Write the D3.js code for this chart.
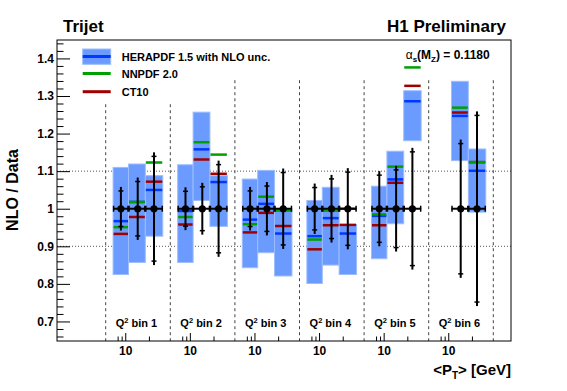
<!DOCTYPE html>
<html>
<head>
<meta charset="utf-8">
<script src="https://cdn.jsdelivr.net/npm/d3@7"></script>
<style>
  body { margin: 0; background: #fff; }
  svg { font-family: "Liberation Sans", Arial, sans-serif; font-weight: bold; }
</style>
</head>
<body>
<div id="chart"></div>
<script>
// Q2 bins and <pT> bins inside each of them
var q2Bins = ["1", "2", "3", "4", "5", "6"];
var ptEdges = [7, 11, 18, 30];
var ptMean = [8.8, 14.4, 23.2];
var ptRange = [5.64, 37.4];
var ptTicksMajor = [10];
var ptTicksMinor = [8, 9, 20];

// NLO / Data, one row per Q2 bin, one value per pT bin (null = no point)
var heraHi = [[1.110, 1.119, 1.088], [1.117, 1.257, 1.088], [1.079, 1.102, 1.000],
              [1.022, 1.057, 0.958], [1.060, 1.153, 1.314], [null, 1.339, 1.159]];
var heraLo = [[0.825, 0.857, 0.927], [0.857, 1.022, 0.953], [0.843, 0.883, 0.821],
              [0.801, 0.850, 0.825], [0.867, 0.960, 1.181], [null, 1.128, 0.991]];
var hera   = [[0.967, 1.018, 1.050], [0.994, 1.158, 1.071], [0.971, 1.013, 0.934],
              [0.927, 0.975, 0.934], [0.981, 1.078, 1.286], [null, 1.247, 1.101]];
var nnpdf  = [[0.951, 1.018, 1.123], [0.978, 1.177, 1.144], [0.959, 1.032, 0.995],
              [0.918, 0.995, 1.000], [0.985, 1.112, 1.376], [null, 1.269, 1.124]];
var ct10   = [[0.933, 0.978, 1.072], [0.958, 1.131, 1.093], [0.937, 0.989, 0.954],
              [0.892, 0.956, 0.957], [0.956, 1.069, 1.327], [null, 1.256, 1.124]];
// data relative uncertainty (data sits at 1 by construction)
var dataErr = [[0.058, 0.083, 0.150], [0.057, 0.069, 0.128], [0.058, 0.071, 0.107],
               [0.067, 0.090, 0.108], [0.100, 0.114, 0.162], [null, 0.184, 0.259]];

var yMajor = [0.7, 0.8, 0.9, 1, 1.1, 1.2, 1.3, 1.4];
var yGuides = [0.9, 1.1];

var W = 567, H = 391;
var fl = 57, fr = 511, ft = 40, fb = 341;

var svg = d3.select("#chart").append("svg")
    .attr("width", W).attr("height", H);

var y = d3.scaleLinear().domain([0.648, 1.449]).range([fb, ft]);
var xBin = d3.scaleBand().domain(q2Bins).range([105.7, 493.3]);
var xPt = d3.scaleLog().domain(ptRange).range([0, xBin.bandwidth()]);

// guide lines
svg.selectAll(".hguide").data(yGuides).enter().append("line")
    .attr("x1", fl).attr("x2", fr)
    .attr("y1", function(d) { return y(d); }).attr("y2", function(d) { return y(d); })
    .attr("stroke", "#555").attr("stroke-width", 1).attr("stroke-dasharray", "1,2");

var edges = q2Bins.map(function(b) { return xBin(b); }).concat([xBin(q2Bins[5]) + xBin.bandwidth()]);
svg.selectAll(".vguide").data(edges).enter().append("line")
    .attr("x1", function(d) { return d; }).attr("x2", function(d) { return d; })
    .attr("y1", y(1.342)).attr("y2", fb)
    .attr("stroke", "#444").attr("stroke-width", 1).attr("stroke-dasharray", "3,3");

// legend background hides the guides under it
svg.append("rect").attr("x", 75).attr("y", 41).attr("width", 130).attr("height", 62).attr("fill", "#fff");

// build point list
var pts = [];
q2Bins.forEach(function(b, i) {
  ptMean.forEach(function(m, j) {
    if (dataErr[i][j] == null) return;
    pts.push({bin: b, x0: xBin(b) + xPt(ptEdges[j]), x1: xBin(b) + xPt(ptEdges[j + 1]),
              xc: xBin(b) + xPt(m), hi: heraHi[i][j], lo: heraLo[i][j],
              hera: hera[i][j], nnpdf: nnpdf[i][j], ct10: ct10[i][j], err: dataErr[i][j]});
  });
});

// HERAPDF uncertainty bands
svg.selectAll(".band").data(pts).enter().append("rect")
    .attr("x", function(d) { return d.x0; })
    .attr("width", function(d) { return d.x1 - d.x0; })
    .attr("y", function(d) { return y(d.hi); })
    .attr("height", function(d) { return y(d.lo) - y(d.hi); })
    .attr("fill", "#6b9bff").attr("stroke", "#9dbdff").attr("stroke-width", 1);

// theory central values
var theory = [["hera", "#0038ff"], ["ct10", "#a00000"], ["nnpdf", "#00a000"]];
theory.forEach(function(t) {
  svg.selectAll(".t" + t[0]).data(pts).enter().append("line")
      .attr("x1", function(d) { return d.x0 + 0.5; })
      .attr("x2", function(d) { return d.x1 - 0.5; })
      .attr("y1", function(d) { return y(d[t[0]]); })
      .attr("y2", function(d) { return y(d[t[0]]); })
      .attr("stroke", t[1]).attr("stroke-width", 2.5);
});

// data points
var g = svg.selectAll(".pt").data(pts).enter().append("g");
g.append("line")
    .attr("x1", function(d) { return d.x0; }).attr("x2", function(d) { return d.x1; })
    .attr("y1", y(1)).attr("y2", y(1))
    .attr("stroke", "#000").attr("stroke-width", 2);
g.append("line")
    .attr("x1", function(d) { return d.xc; }).attr("x2", function(d) { return d.xc; })
    .attr("y1", function(d) { return y(1 + d.err); }).attr("y2", function(d) { return y(1 - d.err); })
    .attr("stroke", "#000").attr("stroke-width", 2);
[1, -1].forEach(function(s) {
  g.append("line")
      .attr("x1", function(d) { return d.xc - 2.5; }).attr("x2", function(d) { return d.xc + 2.5; })
      .attr("y1", function(d) { return y(1 + s * d.err) + s * 4; })
      .attr("y2", function(d) { return y(1 + s * d.err) + s * 4; })
      .attr("stroke", "#000").attr("stroke-width", 1.5);
  g.append("line")
      .attr("x1", function(d) { return s > 0 ? d.x1 - 0.5 : d.x0 + 0.5; })
      .attr("x2", function(d) { return s > 0 ? d.x1 - 0.5 : d.x0 + 0.5; })
      .attr("y1", y(1) - 3).attr("y2", y(1) + 3)
      .attr("stroke", "#000").attr("stroke-width", 1.5);
});
g.append("circle")
    .attr("cx", function(d) { return d.xc; }).attr("cy", y(1)).attr("r", 3.6)
    .attr("fill", "#000");

// frame
svg.append("rect").attr("x", fl).attr("y", ft).attr("width", fr - fl).attr("height", fb - ft)
    .attr("fill", "none").attr("stroke", "#000").attr("stroke-width", 1);

// y axis
var yMinor = d3.range(0.66, 1.449, 0.02).filter(function(v) {
  return yMajor.every(function(m) { return Math.abs(m - v) > 0.005; });
});
svg.append("g").attr("transform", "translate(" + fl + ",0)")
    .call(d3.axisLeft(y).tickValues(yMinor).tickSize(-6.5).tickFormat(""))
    .call(function(a) { a.select(".domain").remove(); });
svg.append("g").attr("transform", "translate(" + fl + ",0)")
    .call(d3.axisLeft(y).tickValues(yMajor).tickSize(-13).tickPadding(3).tickFormat(d3.format("")))
    .call(function(a) {
      a.select(".domain").remove();
      a.selectAll("text").attr("font-size", 12).attr("font-family", "Liberation Sans, Arial").attr("font-weight", "bold").attr("fill", "#000");
    });

// x axes, one per Q2 bin
q2Bins.forEach(function(b) {
  var ax = svg.append("g").attr("transform", "translate(" + xBin(b) + "," + fb + ")");
  ax.call(d3.axisBottom(xPt).tickValues(ptTicksMinor).tickSize(-4.5).tickFormat(""))
    .call(function(a) { a.select(".domain").remove(); });
  ax.append("g")
    .call(d3.axisBottom(xPt).tickValues(ptTicksMajor).tickSize(-8).tickPadding(5).tickFormat(d3.format("d")))
    .call(function(a) {
      a.select(".domain").remove();
      a.selectAll("text").attr("font-size", 12).attr("font-family", "Liberation Sans, Arial").attr("font-weight", "bold").attr("fill", "#000");
    });
  var t = svg.append("text")
      .attr("x", xBin(b) + xBin.bandwidth() / 2 - 1.5).attr("y", 326.7)
      .attr("text-anchor", "middle").attr("font-size", 11);
  t.append("tspan").text("Q");
  t.append("tspan").attr("dy", -4).attr("font-size", 7.5).text("2");
  t.append("tspan").attr("dy", 4).text(" bin " + b);
});

// titles
svg.append("text").attr("x", 63).attr("y", 32).attr("font-size", 17).text("Trijet");
svg.append("text").attr("x", 506).attr("y", 32).attr("font-size", 17).attr("text-anchor", "end").text("H1 Preliminary");
svg.append("text").attr("transform", "translate(18,190) rotate(-90)")
    .attr("text-anchor", "middle").attr("font-size", 16).text("NLO / Data");
var xl = svg.append("text").attr("x", 511).attr("y", 375).attr("text-anchor", "end").attr("font-size", 15);
xl.append("tspan").text("<P");
xl.append("tspan").attr("dy", 4).attr("font-size", 10).text("T");
xl.append("tspan").attr("dy", -4).text("> [GeV]");

var as = svg.append("text").attr("x", 405.7).attr("y", 59.3).attr("font-size", 12);
as.append("tspan").attr("font-weight", "normal").text("α");
as.append("tspan").attr("dy", 3).attr("font-size", 8).text("s");
as.append("tspan").attr("dy", -3).text("(M");
as.append("tspan").attr("dy", 3).attr("font-size", 8).text("Z");
as.append("tspan").attr("dy", -3).text(") = 0.1180");

// legend
var leg = [["HERAPDF 1.5 with NLO unc.", "#0038ff", 56.5, 61],
           ["NNPDF 2.0", "#00a000", 73.5, 78.3],
           ["CT10", "#a00000", 91.7, 96]];
svg.append("rect").attr("x", 82.7).attr("y", 49).attr("width", 28).attr("height", 15.3)
    .attr("fill", "#6b9bff").attr("stroke", "#9dbdff").attr("stroke-width", 1);
leg.forEach(function(l) {
  svg.append("line").attr("x1", 82.7).attr("x2", 110.7).attr("y1", l[2]).attr("y2", l[2])
      .attr("stroke", l[1]).attr("stroke-width", 3);
  svg.append("text").attr("x", 121.7).attr("y", l[3]).attr("font-size", 11).text(l[0]);
});
</script>
</body>
</html>
